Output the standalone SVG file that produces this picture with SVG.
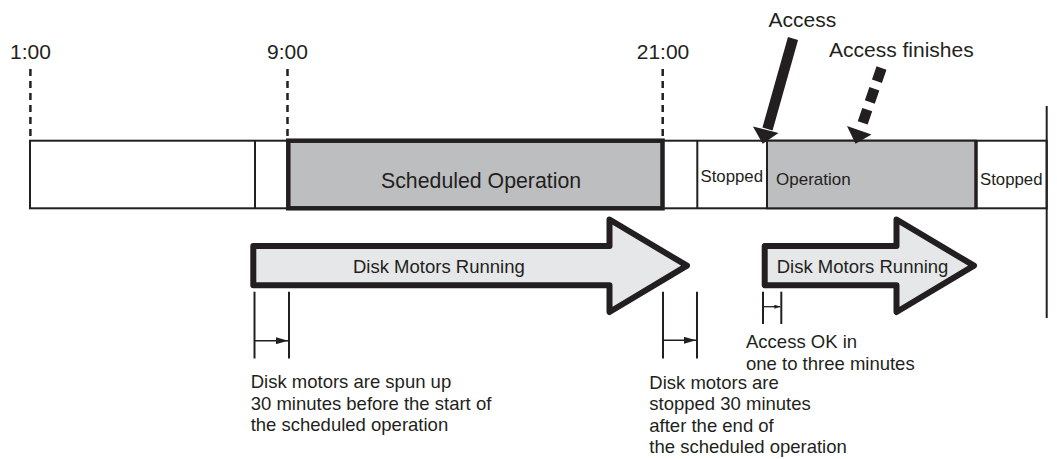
<svg xmlns="http://www.w3.org/2000/svg" width="1057" height="459" viewBox="0 0 1057 459">
<defs>
<style>
text{font-family:"Liberation Sans",Arial,Helvetica,sans-serif;fill:#231f20}
.t21{font-size:21px}
.t185{font-size:18.5px}
.t17{font-size:17px}
.ln{stroke:#231f20;stroke-width:2;fill:none}
.dash{stroke:#231f20;stroke-width:2.5;stroke-dasharray:7 5;fill:none}
.gray{fill:#bcbec0;stroke:#231f20}
.bigarrow{fill:#e6e7e8;stroke:#231f20;stroke-width:6;stroke-linejoin:round}
</style>
<marker id="hd" markerUnits="userSpaceOnUse" markerWidth="12" markerHeight="7" refX="12" refY="3.5" orient="auto">
<path d="M0,0 L12,3.5 L0,7 Z" fill="#231f20"/>
</marker>
<marker id="hds" markerUnits="userSpaceOnUse" markerWidth="6" markerHeight="4" refX="6" refY="2" orient="auto">
<path d="M0,0 L6,2 L0,4 Z" fill="#231f20"/>
</marker>
</defs>
<rect width="1057" height="459" fill="#ffffff"/>

<g id="time-1">
<text class="t21" x="30.5" y="58.5" text-anchor="middle">1:00</text>
</g>
<g id="time-9">
<text class="t21" x="287.5" y="58.5" text-anchor="middle">9:00</text>
</g>
<g id="time-21">
<text class="t21" x="663" y="58.5" text-anchor="middle">21:00</text>
</g>

<g id="timeline-bar">
<rect x="30" y="140.7" width="1016.7" height="67.6" fill="#ffffff" class="ln"/>
<line class="ln" x1="255" y1="140.7" x2="255" y2="208.3"/>
<line class="ln" x1="697.3" y1="140.7" x2="697.3" y2="208.3"/>
</g>

<g id="scheduled-operation">
<rect class="gray" x="288.3" y="140.7" width="374.2" height="67.6" stroke-width="4.5"/>
<text x="381" y="188" style="font-size:21.3px">Scheduled Operation</text>
</g>

<g id="stopped-1">
<text x="700.5" y="182" style="font-size:16.8px">Stopped</text>
</g>

<g id="operation">
<rect class="gray" x="767" y="140.7" width="209" height="67.6" stroke-width="2"/>
<line x1="976" y1="140.7" x2="976" y2="208.3" stroke="#231f20" stroke-width="3.5"/>
<text class="t17" x="776" y="185">Operation</text>
</g>

<g id="stopped-2">
<text x="980" y="185" style="font-size:16.8px">Stopped</text>
</g>

<g id="right-edge">
<line class="ln" x1="1046.7" y1="106" x2="1046.7" y2="318"/>
</g>

<g id="access">
<text class="t21" x="768.5" y="26.7">Access</text>
</g>
<g id="access-finishes">
<text class="t21" x="829" y="57">Access finishes</text>
</g>

<g id="motors-running-1">
<path class="bigarrow" d="M253.3,246 L609.5,246 L609.5,219.5 L687,265.7 L609.5,312 L609.5,285.3 L253.3,285.3 Z"/>
<text class="t185" x="353" y="272.7">Disk Motors Running</text>
</g>

<g id="motors-running-2">
<path class="bigarrow" d="M764.7,246 L896.5,246 L896.5,219.5 L974,265.7 L896.5,312 L896.5,285.3 L764.7,285.3 Z"/>
<text class="t185" x="776.7" y="272.7">Disk Motors Running</text>
</g>

<g id="note-spin-up">
<text class="t185" x="250.7"><tspan x="250.7" y="388">Disk motors are spun up</tspan><tspan x="250.7" y="409.5">30 minutes before the start of</tspan><tspan x="250.7" y="431">the scheduled operation</tspan></text>
</g>

<g id="note-stop">
<text class="t185" x="649.3"><tspan x="649.3" y="389">Disk motors are</tspan><tspan x="649.3" y="410.3">stopped 30 minutes</tspan><tspan x="649.3" y="431.6">after the end of</tspan><tspan x="649.3" y="452.8">the scheduled operation</tspan></text>
</g>

<g id="note-access-ok">
<text class="t185" x="746"><tspan x="746" y="348.3">Access OK in</tspan><tspan x="746" y="370">one to three minutes</tspan></text>
</g>

<g id="connectors">
<line class="dash" x1="30.4" y1="69" x2="30.4" y2="138"/>
<line class="dash" x1="287.5" y1="69" x2="287.5" y2="138"/>
<line class="dash" x1="662.7" y1="69" x2="662.7" y2="138"/>

<line x1="793" y1="38.5" x2="767.5" y2="129" stroke="#231f20" stroke-width="10.5"/>
<polygon points="753,126.5 778.5,133 762.7,143.7" fill="#231f20"/>

<line x1="881.5" y1="68" x2="862.7" y2="122.9" stroke="#231f20" stroke-width="10.5" stroke-dasharray="14 8"/>
<polygon points="847,126 871.5,134.5 855.5,143.7" fill="#231f20"/>

<line class="ln" x1="254.5" y1="291.7" x2="254.5" y2="358.5"/>
<line class="ln" x1="289" y1="291.7" x2="289" y2="358.5"/>
<line x1="254.5" y1="340.7" x2="288" y2="340.7" stroke="#231f20" stroke-width="1.6" marker-end="url(#hd)"/>

<line class="ln" x1="663" y1="291.7" x2="663" y2="358.5"/>
<line class="ln" x1="697" y1="291.7" x2="697" y2="358.5"/>
<line x1="663" y1="340.3" x2="696" y2="340.3" stroke="#231f20" stroke-width="1.6" marker-end="url(#hd)"/>

<line class="ln" x1="763" y1="291.7" x2="763" y2="324"/>
<line class="ln" x1="781.3" y1="291.7" x2="781.3" y2="324"/>
<line x1="763" y1="306.7" x2="780.3" y2="306.7" stroke="#231f20" stroke-width="1.3" marker-end="url(#hds)"/>
</g>
</svg>
